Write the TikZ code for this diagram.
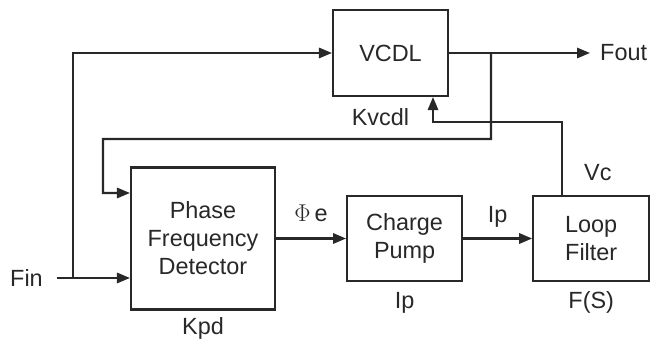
\documentclass[tikz,border=0pt]{standalone}
\usepackage{fontspec}
\setmainfont{Liberation Sans}
\usepackage{tikz}
\usetikzlibrary{arrows.meta, positioning, calc}
\definecolor{inkgray}{RGB}{40, 40, 40}
\tikzset{
  >=Triangle,
  flowarrow/.style={-{Triangle[length=3.9mm, width=3.1mm]}, line width=1.8pt, inkgray},
  block/.style={draw=inkgray, line width=1.8pt, inner sep=0pt, align=center, text=inkgray},
  lbl/.style={inner sep=0pt, text=inkgray}
}

\begin{document}
\begin{tikzpicture}[font=\fontsize{20}{24}\selectfont]
    \useasboundingbox (0,0) rectangle (19.5,10.17);

    \node (pfd) [block, minimum width=4.32cm, minimum height=4.26cm] at (6.09,3.015) {Phase\\Frequency\\Detector};
    \node (cp) [block, minimum width=3.45cm, minimum height=2.55cm, right=2.1cm of pfd] {Charge\\Pump};
    \node (lf) [block, minimum width=3.48cm, minimum height=2.55cm, right=2.07cm of cp] {Loop\\Filter};
    \node (vcdl) [block, minimum width=3.45cm, minimum height=2.58cm] at (11.715,8.58) {VCDL};

    \node (kpd) [lbl, below=0.19cm of pfd] {Kpd};
    \node (ipcp) [lbl, below=0.3cm of cp] {Ip};
    \node (fs) [lbl, below=0.28cm of lf] {F(S)};
    \node (kvcdl) [lbl, below=0.33cm of vcdl, xshift=-0.3cm] {Kvcdl};
    \node (vc) [lbl, above=0.43cm of lf, xshift=0.2cm] {Vc};

    \node (fin) [lbl, anchor=east, inner xsep=0.42cm] at (1.71,1.83) {Fin};
    \node (fout) [lbl, anchor=west, inner xsep=0.3cm] at (17.7,8.58) {Fout};

    \coordinate (split) at (2.19,1.83);
    \coordinate (tap) at (14.73,8.58);
    \coordinate (vctap) at ([xshift=-0.87cm]lf.north);
    \coordinate (vcin) at ([xshift=1.275cm]vcdl.south);

    \draw[flowarrow] (fin) -- (fin -| pfd.west);
    \draw[flowarrow] (split) |- (vcdl.west);
    \draw[flowarrow] (vcdl) -- (fout);
    \draw[flowarrow] (tap) -- ++(0,-2.58) -| (3.09,4.38) -- ([yshift=1.365cm]pfd.west);
    \draw[flowarrow] (pfd.east |- cp.west) -- node[lbl, above=0.48cm] {$\Phi$\,e} (cp.west);
    \draw[flowarrow] (cp) -- node[lbl, above=0.3cm] {Ip} (lf);
    \draw[flowarrow] (vctap) -- ++(0,2.175) -| (vcin);
\end{tikzpicture}
\end{document}
